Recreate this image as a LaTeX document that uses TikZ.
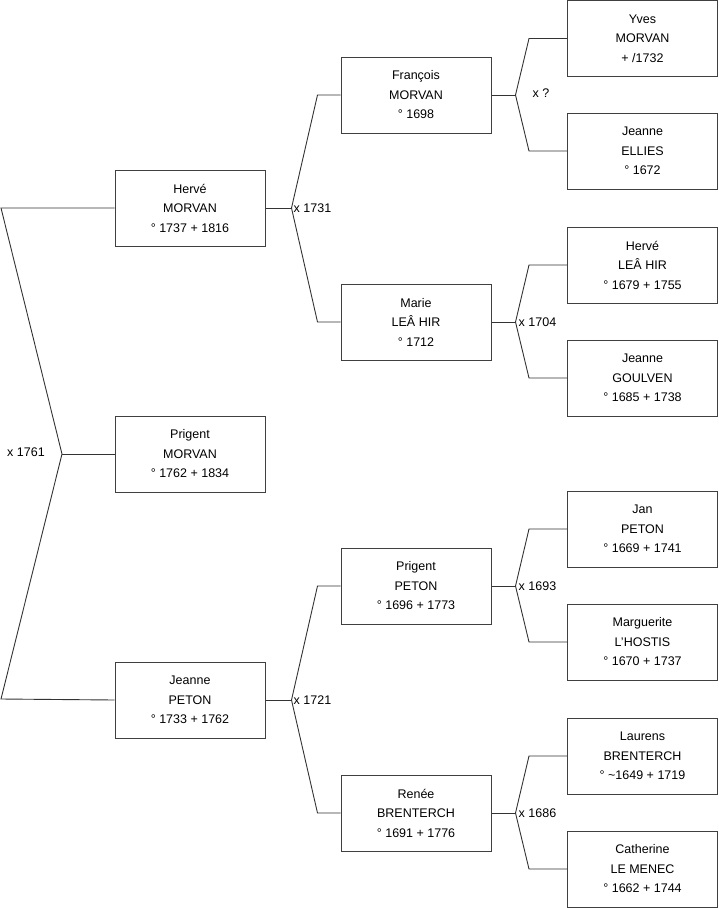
\documentclass[tikz,border=0pt]{standalone}
\usepackage{fontspec}
\setmainfont{Liberation Sans}
\usepackage{tikz}
\usetikzlibrary{calc}

\begin{document}
\begin{tikzpicture}[
  x=1pt, y=-1pt,
  font=\fontsize{12.5}{19.5}\selectfont,
  pers/.style={rectangle, draw=black!75, fill=white, line width=1pt, align=center,
               minimum width=150pt, minimum height=76pt, inner sep=0pt},
  lien/.style={draw=black!80, line width=0.9pt},
  mariage/.style={font=\fontsize{12.5}{14}\selectfont, inner sep=0pt},
]
\useasboundingbox (0,0) rectangle (719,908);
% --- generation 1 ---
\node[pers] (herve)   at (190,208) {Hervé\\MORVAN\\° 1737 + 1816};
\node[pers] (prigent) at (190,454) {Prigent\\MORVAN\\° 1762 + 1834};
\node[pers] (jeanne)  at (190,700) {Jeanne\\PETON\\° 1733 + 1762};
% --- generation 2 ---
\node[pers] (francois) at (416,95)  {François\\MORVAN\\° 1698};
\node[pers] (marie)    at (416,322) {Marie\\LEÂ HIR\\° 1712};
\node[pers] (prigentp) at (416,586) {Prigent\\PETON\\° 1696 + 1773};
\node[pers] (renee)    at (416,813) {Renée\\BRENTERCH\\° 1691 + 1776};
% --- generation 3 ---
\node[pers] (yves)       at (642.5,38.5) {Yves\\MORVAN\\+ /1732};
\node[pers] (ellies)     at (642.5,151)  {Jeanne\\ELLIES\\° 1672};
\node[pers] (herveh)     at (642.5,265)  {Hervé\\LEÂ HIR\\° 1679 + 1755};
\node[pers] (goulven)    at (642.5,378)  {Jeanne\\GOULVEN\\° 1685 + 1738};
\node[pers] (jan)        at (642.5,529)  {Jan\\PETON\\° 1669 + 1741};
\node[pers] (marguerite) at (642.5,642)  {Marguerite\\L'HOSTIS\\° 1670 + 1737};
\node[pers] (laurens)    at (642.5,756)  {Laurens\\BRENTERCH\\° \textasciitilde 1649 + 1719};
\node[pers] (catherine)  at (642.5,869)  {Catherine\\LE MENEC\\° 1662 + 1744};
% --- liens ---
\coordinate (m0) at (62,454);
\draw[lien] (herve.west) -- (1,208) -- (m0) -- (1,699) -- (jeanne.west);
\draw[lien] (m0) -- (prigent.west);
\node[mariage] at (26,452) {x 1761};
\coordinate (m1) at ($(herve.east)+(26,0)$);
\coordinate (m2) at ($(jeanne.east)+(26,0)$);
\draw[lien] (herve.east) -- (m1);
\draw[lien] (francois.west) -- ++(-23,0) -- (m1) -- ($(marie.west)+(-23,0)$) -- (marie.west);
\draw[lien] (jeanne.east) -- (m2);
\draw[lien] (prigentp.west) -- ++(-23,0) -- (m2) -- ($(renee.west)+(-23,0)$) -- (renee.west);
\node[mariage, anchor=west] at ($(m1)+(2,0)$) {x 1731};
\node[mariage, anchor=west] at ($(m2)+(2,0)$) {x 1721};
\coordinate (m3) at ($(francois.east)+(24,0)$);
\coordinate (m4) at ($(marie.east)+(24,0)$);
\coordinate (m5) at ($(prigentp.east)+(24,0)$);
\coordinate (m6) at ($(renee.east)+(24,0)$);
\draw[lien] (francois.east) -- (m3);
\draw[lien] (yves.west) -- ++(-38,0) -- (m3) -- ($(ellies.west)+(-38,0)$) -- (ellies.west);
\draw[lien] (marie.east) -- (m4);
\draw[lien] (herveh.west) -- ++(-38,0) -- (m4) -- ($(goulven.west)+(-38,0)$) -- (goulven.west);
\draw[lien] (prigentp.east) -- (m5);
\draw[lien] (jan.west) -- ++(-38,0) -- (m5) -- ($(marguerite.west)+(-38,0)$) -- (marguerite.west);
\draw[lien] (renee.east) -- (m6);
\draw[lien] (laurens.west) -- ++(-38,0) -- (m6) -- ($(catherine.west)+(-38,0)$) -- (catherine.west);
\node[mariage] at (541,93) {x ?};
\node[mariage, anchor=west] at ($(m4)+(3,0)$) {x 1704};
\node[mariage, anchor=west] at ($(m5)+(3,0)$) {x 1693};
\node[mariage, anchor=west] at ($(m6)+(3,0)$) {x 1686};
\end{tikzpicture}
\end{document}
